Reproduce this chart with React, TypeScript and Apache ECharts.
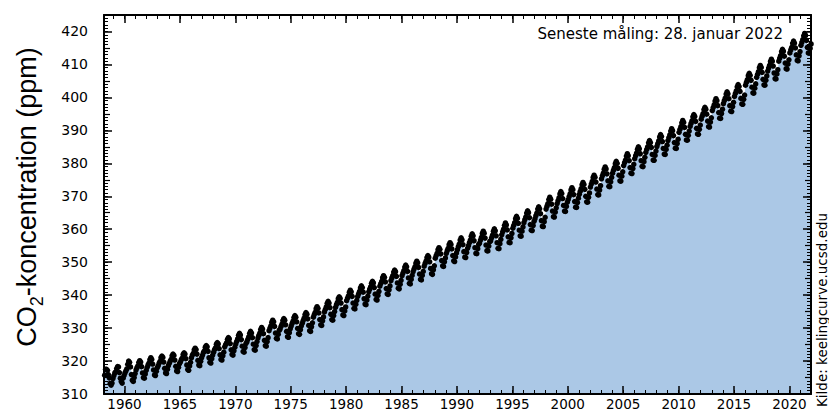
import React, { useEffect, useRef } from "react";
import * as echarts from "echarts";

// Monthly mean CO2 (ppm), Mauna Loa, starting March 1958
const START_YEAR = 1958;
const START_MONTH = 3;

const co2_1958_1969 = [
  315.7, 317.5, 317.5, 317.2, 315.9, 314.9, 313.2, 312.7, 313.3, 314.7,
  315.6, 316.4, 316.7, 317.7, 318.3, 318.2, 316.5, 314.8, 313.8, 313.3, 314.8, 315.6,
  316.4, 317.0, 317.6, 319.0, 320.0, 319.6, 318.2, 315.9, 314.2, 313.8, 315.0, 316.2,
  317.3, 318.0, 318.5, 319.6, 320.1, 319.7, 318.3, 316.4, 315.0, 314.8, 316.1, 317.2,
  318.1, 318.8, 319.4, 320.4, 321.0, 320.5, 319.1, 317.3, 315.8, 315.6, 316.9, 318.0,
  318.6, 319.4, 319.9, 321.0, 321.5, 321.1, 319.7, 317.8, 316.4, 316.2, 317.5, 318.6,
  319.3, 320.0, 320.5, 321.6, 322.1, 321.7, 320.3, 318.4, 317.0, 316.8, 318.1, 319.2,
  319.7, 320.4, 320.9, 322.0, 322.5, 322.1, 320.7, 318.8, 317.4, 317.2, 318.5, 319.6,
  321.0, 321.8, 322.3, 323.4, 323.9, 323.5, 322.1, 320.2, 318.8, 318.6, 319.9, 321.0,
  321.8, 322.6, 323.1, 324.2, 324.7, 324.3, 322.9, 321.0, 319.6, 319.4, 320.7, 321.8,
  322.7, 323.5, 324.0, 325.1, 325.6, 325.2, 323.8, 321.9, 320.5, 320.3, 321.6, 322.7,
  324.3, 325.0, 325.5, 326.6, 327.1, 326.7, 325.3, 323.4, 322.0, 321.8, 323.1, 324.2,
];

const co2_1970s = [
  325.2, 326.0, 326.7, 327.8, 328.4, 327.9, 326.5, 324.5, 322.9, 322.7, 324.1, 325.3,
  325.8, 326.6, 327.3, 328.4, 329.0, 328.5, 327.1, 325.1, 323.5, 323.3, 324.7, 325.9,
  327.0, 327.8, 328.5, 329.6, 330.2, 329.7, 328.3, 326.3, 324.7, 324.5, 325.9, 327.1,
  329.2, 330.0, 330.7, 331.8, 332.4, 331.9, 330.5, 328.5, 326.9, 326.7, 328.1, 329.3,
  329.7, 330.5, 331.2, 332.3, 332.9, 332.4, 331.0, 329.0, 327.4, 327.2, 328.6, 329.8,
  330.6, 331.4, 332.1, 333.2, 333.8, 333.3, 331.9, 329.9, 328.3, 328.1, 329.5, 330.7,
  331.5, 332.3, 333.0, 334.1, 334.7, 334.2, 332.8, 330.8, 329.2, 329.0, 330.4, 331.6,
  333.3, 334.1, 334.8, 335.9, 336.5, 336.0, 334.6, 332.6, 331.0, 330.8, 332.2, 333.4,
  334.9, 335.7, 336.4, 337.5, 338.1, 337.6, 336.2, 334.2, 332.6, 332.4, 333.8, 335.0,
  336.3, 337.1, 337.8, 338.9, 339.5, 339.0, 337.6, 335.6, 334.0, 333.8, 335.2, 336.4,
];

const co2_1980s = [
  338.3, 339.1, 339.8, 340.9, 341.5, 341.0, 339.6, 337.6, 336.0, 335.8, 337.2, 338.4,
  339.6, 340.4, 341.1, 342.2, 342.8, 342.3, 340.9, 338.9, 337.3, 337.1, 338.5, 339.7,
  341.0, 341.8, 342.5, 343.6, 344.2, 343.7, 342.3, 340.3, 338.7, 338.5, 339.9, 341.1,
  342.7, 343.5, 344.2, 345.3, 345.9, 345.4, 344.0, 342.0, 340.4, 340.2, 341.6, 342.8,
  344.4, 345.2, 345.9, 347.0, 347.6, 347.1, 345.7, 343.7, 342.1, 341.9, 343.3, 344.5,
  345.9, 346.7, 347.4, 348.5, 349.1, 348.6, 347.2, 345.2, 343.6, 343.4, 344.8, 346.0,
  347.1, 347.9, 348.6, 349.7, 350.3, 349.8, 348.4, 346.4, 344.8, 344.6, 346.0, 347.2,
  348.8, 349.6, 350.3, 351.4, 352.0, 351.5, 350.1, 348.1, 346.5, 346.3, 347.7, 348.9,
  351.2, 352.0, 352.7, 353.8, 354.4, 353.9, 352.5, 350.5, 348.9, 348.7, 350.1, 351.3,
  352.7, 353.5, 354.2, 355.3, 355.9, 355.4, 354.0, 352.0, 350.4, 350.2, 351.6, 352.8,
];

const co2_1990s = [
  353.8, 354.7, 355.5, 356.7, 357.4, 356.8, 355.3, 353.2, 351.5, 351.4, 352.9, 354.2,
  355.0, 355.9, 356.7, 357.9, 358.6, 358.0, 356.5, 354.4, 352.7, 352.6, 354.1, 355.4,
  355.8, 356.7, 357.5, 358.7, 359.4, 358.8, 357.3, 355.2, 353.5, 353.4, 354.9, 356.2,
  356.5, 357.4, 358.2, 359.4, 360.1, 359.5, 358.0, 355.9, 354.2, 354.1, 355.6, 356.9,
  358.3, 359.2, 360.0, 361.2, 361.9, 361.3, 359.8, 357.7, 356.0, 355.9, 357.4, 358.7,
  360.3, 361.2, 362.0, 363.2, 363.9, 363.3, 361.8, 359.7, 358.0, 357.9, 359.4, 360.7,
  362.0, 362.9, 363.7, 364.9, 365.6, 365.0, 363.5, 361.4, 359.7, 359.6, 361.1, 362.4,
  363.2, 364.1, 364.9, 366.1, 366.8, 366.2, 364.7, 362.6, 360.9, 360.8, 362.3, 363.6,
  366.1, 367.0, 367.8, 369.0, 369.7, 369.1, 367.6, 365.5, 363.8, 363.7, 365.2, 366.5,
  367.8, 368.7, 369.5, 370.7, 371.4, 370.8, 369.3, 367.2, 365.5, 365.4, 366.9, 368.2,
];

const co2_2000s = [
  369.0, 369.9, 370.7, 371.9, 372.6, 372.0, 370.5, 368.4, 366.7, 366.6, 368.1, 369.4,
  370.6, 371.5, 372.3, 373.5, 374.2, 373.6, 372.1, 370.0, 368.3, 368.2, 369.7, 371.0,
  372.8, 373.7, 374.5, 375.7, 376.4, 375.8, 374.3, 372.2, 370.5, 370.4, 371.9, 373.2,
  375.3, 376.2, 377.0, 378.2, 378.9, 378.3, 376.8, 374.7, 373.0, 372.9, 374.4, 375.7,
  377.0, 377.9, 378.7, 379.9, 380.6, 380.0, 378.5, 376.4, 374.7, 374.6, 376.1, 377.4,
  379.3, 380.2, 381.0, 382.2, 382.9, 382.3, 380.8, 378.7, 377.0, 376.9, 378.4, 379.7,
  381.4, 382.3, 383.1, 384.3, 385.0, 384.4, 382.9, 380.8, 379.1, 379.0, 380.5, 381.8,
  383.3, 384.2, 385.0, 386.2, 386.9, 386.3, 384.8, 382.7, 381.0, 380.9, 382.4, 383.7,
  385.1, 386.0, 386.8, 388.0, 388.7, 388.1, 386.6, 384.5, 382.8, 382.7, 384.2, 385.5,
  386.9, 387.8, 388.6, 389.8, 390.5, 389.9, 388.4, 386.3, 384.6, 384.5, 386.0, 387.3,
];

const co2_2010s = [
  389.4, 390.3, 391.1, 392.3, 393.0, 392.4, 390.9, 388.8, 387.1, 387.0, 388.5, 389.8,
  391.2, 392.1, 392.9, 394.1, 394.8, 394.2, 392.7, 390.6, 388.9, 388.8, 390.3, 391.6,
  393.4, 394.3, 395.1, 396.3, 397.0, 396.4, 394.9, 392.8, 391.1, 391.0, 392.5, 393.8,
  396.0, 396.9, 397.7, 398.9, 399.6, 399.0, 397.5, 395.4, 393.7, 393.6, 395.1, 396.4,
  398.1, 399.0, 399.8, 401.0, 401.7, 401.1, 399.6, 397.5, 395.8, 395.7, 397.2, 398.5,
  400.3, 401.2, 402.0, 403.2, 403.9, 403.3, 401.8, 399.7, 398.0, 397.9, 399.4, 400.7,
  403.7, 404.6, 405.4, 406.6, 407.3, 406.7, 405.2, 403.1, 401.4, 401.3, 402.8, 404.1,
  406.1, 407.0, 407.8, 409.0, 409.7, 409.1, 407.6, 405.5, 403.8, 403.7, 405.2, 406.5,
  408.0, 408.9, 409.7, 410.9, 411.6, 411.0, 409.5, 407.4, 405.7, 405.6, 407.1, 408.4,
  411.0, 411.9, 412.7, 413.9, 414.6, 414.0, 412.5, 410.4, 408.7, 408.6, 410.1, 411.4,
];

const co2_2020s = [
  413.5, 414.4, 415.2, 416.4, 417.1, 416.5, 415.0, 412.9, 411.2, 411.1, 412.6, 413.9,
  415.8, 416.7, 417.5, 418.7, 419.4, 418.8, 417.3, 415.2, 413.5, 413.4, 414.9, 416.2,
  418.2,
];

const majorYears = [1960, 1965, 1970, 1975, 1980, 1985, 1990, 1995, 2000, 2005, 2010, 2015, 2020];
const yLabels = [310, 320, 330, 340, 350, 360, 370, 380, 390, 400, 410, 420];
const yMidTicks = [315, 325, 335, 345, 355, 365, 375, 385, 395, 405, 415];

const X_MIN = 1958.15;
const X_MAX = 2021.95;
const Y_MIN = 310;
const Y_MAX = 425;

const minorYears: number[] = [];
for (let y = 1959; y <= 2021; y++) minorYears.push(y);
const minorPpm: number[] = [];
for (let v = 311; v <= 424; v++) minorPpm.push(v);

const allValues = [
  ...co2_1958_1969,
  ...co2_1970s,
  ...co2_1980s,
  ...co2_1990s,
  ...co2_2000s,
  ...co2_2010s,
  ...co2_2020s,
];

const points = allValues.map((v, i) => {
  const idx = START_MONTH - 1 + i;
  const year = START_YEAR + Math.floor(idx / 12);
  const month = idx % 12;
  return [year + (month + 0.5) / 12, v];
});

const FONT = "DejaVu Sans";

function xAxisDef(position: string, ticks: number[], len: number, width: number, line: boolean, labels: boolean) {
  return {
    type: "value",
    position,
    min: X_MIN,
    max: X_MAX,
    z: 10,
    axisLine: { show: line, onZero: false, lineStyle: { color: "#000", width: 2 } },
    axisTick: { show: true, inside: true, length: len, customValues: ticks, lineStyle: { color: "#000", width } },
    axisLabel: labels
      ? {
          show: true,
          customValues: majorYears,
          formatter: (v: number) => String(Math.round(v)),
          color: "#000",
          fontSize: 13.5,
          lineHeight: 14,
          fontFamily: FONT,
          margin: 3,
        }
      : { show: false },
    splitLine: { show: false },
  };
}

function yAxisDef(position: string, ticks: number[], len: number, width: number, line: boolean, labels: boolean) {
  return {
    type: "value",
    position,
    min: Y_MIN,
    max: Y_MAX,
    z: 10,
    axisLine: { show: line, onZero: false, lineStyle: { color: "#000", width: 2 } },
    axisTick: { show: true, inside: true, length: len, customValues: ticks, lineStyle: { color: "#000", width } },
    axisLabel: labels
      ? {
          show: true,
          customValues: yLabels,
          formatter: (v: number) => String(Math.round(v)),
          color: "#000",
          fontSize: 14,
          fontFamily: FONT,
          margin: 16,
        }
      : { show: false },
    splitLine: { show: false },
  };
}

export default function App() {
  const ref = useRef<HTMLDivElement>(null);

  useEffect(() => {
    if (!ref.current) return;
    const chart = echarts.init(ref.current, null, { renderer: "svg" });

    const globe = new echarts.graphic.RadialGradient(0.35, 0.35, 0.75, [
      { offset: 0, color: "#8fd0ef" },
      { offset: 0.5, color: "#2b7fb9" },
      { offset: 1, color: "#0c3a6b" },
    ]);

    const option: any = {
      animation: false,
      backgroundColor: "#fff",
      grid: { left: 104, right: 18, top: 15, bottom: 17, containLabel: false, outerBoundsMode: "none" },
      xAxis: [
        xAxisDef("bottom", majorYears, 8, 1.5, true, true),
        xAxisDef("bottom", minorYears, 4, 1, false, false),
        xAxisDef("top", majorYears, 8, 1.5, true, false),
        xAxisDef("top", minorYears, 4, 1, false, false),
      ],
      yAxis: [
        yAxisDef("left", yLabels, 8, 1.5, true, true),
        yAxisDef("left", yMidTicks, 6, 1.2, false, false),
        yAxisDef("left", minorPpm, 4, 1, false, false),
        yAxisDef("right", yLabels, 8, 1.5, true, false),
        yAxisDef("right", yMidTicks, 6, 1.2, false, false),
        yAxisDef("right", minorPpm, 4, 1, false, false),
      ],
      series: [
        {
          type: "line",
          xAxisIndex: 0,
          yAxisIndex: 0,
          data: points,
          symbol: "circle",
          symbolSize: 5.5,
          showSymbol: true,
          showAllSymbol: true,
          itemStyle: { color: "#000" },
          lineStyle: { width: 0, opacity: 0 },
          areaStyle: { color: "#abc8e6", opacity: 1, origin: "start" },
          silent: true,
          z: 2,
        },
      ],
      graphic: [
        {
          type: "text",
          x: 783,
          y: 34,
          z: 100,
          style: {
            text: "Seneste måling: 28. januar 2022",
            fontSize: 15,
            fontFamily: FONT,
            fill: "#000",
            align: "right",
            verticalAlign: "middle",
          },
        },
        {
          type: "text",
          x: 27,
          y: 197,
          rotation: Math.PI / 2,
          z: 100,
          style: {
            text: "{a|CO}{s|2}{a|-koncentration (ppm)}",
            align: "center",
            verticalAlign: "middle",
            fill: "#000",
            rich: {
              a: { fontSize: 27, fontFamily: "Liberation Sans", lineHeight: 38, verticalAlign: "middle", fill: "#000" },
              s: { fontSize: 18, fontFamily: "Liberation Sans", lineHeight: 18, verticalAlign: "bottom", fill: "#000" },
            },
          },
        },
        {
          type: "text",
          x: 822,
          y: 407,
          rotation: Math.PI / 2,
          z: 100,
          style: {
            text: "Kilde: keelingcurve.ucsd.edu",
            fontSize: 13.5,
            fontFamily: FONT,
            fill: "#000",
            align: "left",
            verticalAlign: "middle",
          },
        },
        {
          type: "group",
          z: 100,
          children: [
            { type: "rect", shape: { x: 670, y: 357, width: 126, height: 20 }, style: { fill: "#fff" } },
            { type: "circle", shape: { cx: 680, cy: 367, r: 8.5 }, style: { fill: globe } },
            {
              type: "text",
              x: 689,
              y: 362,
              style: { text: "SCRIPPS", fontSize: 9.5, fontFamily: "Liberation Serif", fill: "#1a1a1a", align: "left", verticalAlign: "middle" },
            },
            {
              type: "text",
              x: 724,
              y: 363,
              style: { text: "INSTITUTION OF", fontSize: 4.5, fontWeight: "bold", fontFamily: "Liberation Serif", fill: "#1a1a1a", align: "left", verticalAlign: "middle" },
            },
            {
              type: "text",
              x: 689,
              y: 371.5,
              style: { text: "OCEANOGRAPHY", fontSize: 10, fontFamily: "Liberation Serif", fill: "#1a1a1a", align: "left", verticalAlign: "middle" },
            },
            {
              type: "text",
              x: 774,
              y: 373,
              style: { text: "UC San Diego", fontSize: 3.8, fontFamily: "Liberation Sans", fill: "#1a1a1a", align: "left", verticalAlign: "middle" },
            },
          ],
        },
      ],
    };

    chart.setOption(option);
    return () => chart.dispose();
  }, []);

  return <div ref={ref} style={{ position: "absolute", left: 0, top: 0, width: 829, height: 411 }} />;
}
